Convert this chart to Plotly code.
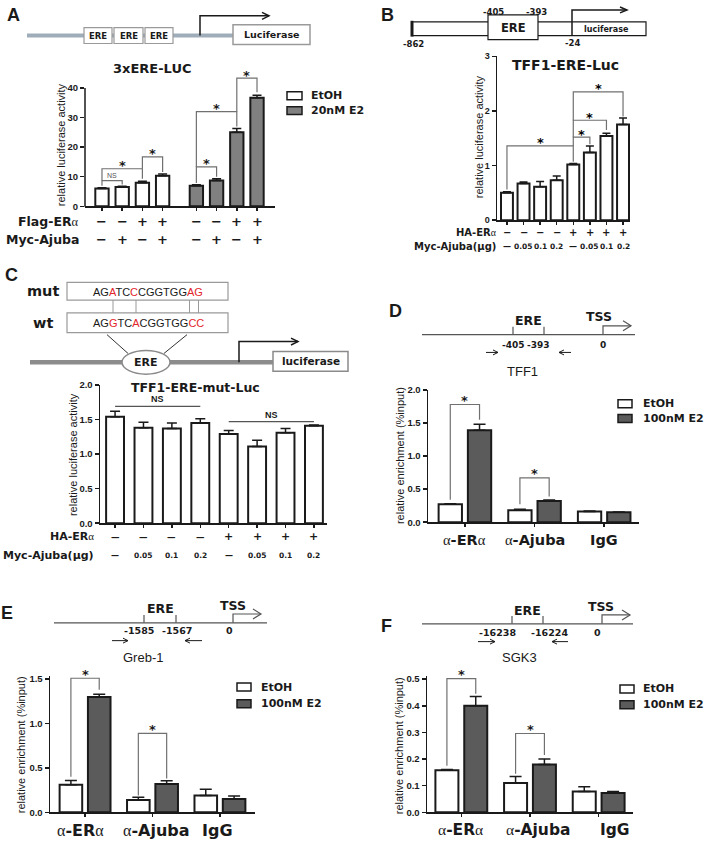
import plotly.graph_objects as go

W, H = 708, 845


def P(x):
    return x / W


def Q(y):
    return 1 - y / H


SANS = "DejaVu Sans"
ARIAL = "Liberation Sans"
SERIF = "Liberation Serif"
INK = "#1a1a1a"
GRAY_A = "#808080"
GRAY_D = "#5b5b5b"
BRK = "#707070"
RED = "#e3262b"

# ======================= DATA =======================
# Panel A : 3xERE-LUC
A_title = "3xERE-LUC"
A_rows = ["Flag-ERα", "Myc-Ajuba"]
A_flag = ["−", "−", "+", "+", "−", "−", "+", "+"]
A_myc = ["−", "+", "−", "+", "−", "+", "−", "+"]
A_legend = ["EtOH", "20nM E2"]
A_etoh = [6.0, 6.5, 8.0, 10.3]
A_etoh_err = [0.3, 0.3, 0.5, 0.6]
A_e2 = [7.0, 8.7, 25.0, 36.7]
A_e2_err = [0.3, 0.6, 1.3, 0.8]
A_yticks = [0, 10, 20, 30, 40]
# (bar i, bar j, bracket top, left leg end, right leg end, label)
A_brackets = [(0, 1, 8.7, 7.0, 7.4, "NS"), (0, 2, 12.7, 8.7, 9.3, "*"),
              (2, 3, 16.7, 12.7, 11.6, "*"), (4, 5, 13.3, 7.9, 10.0, "*"),
              (4, 6, 32.0, 13.3, 27.0, "*"), (6, 7, 43.3, 32.0, 38.5, "*")]

# Panel B : TFF1-ERE-Luc
B_title = "TFF1-ERE-Luc"
B_rows = ["HA-ERα", "Myc-Ajuba(μg)"]
B_ha = ["−", "−", "−", "−", "+", "+", "+", "+"]
B_myc = ["—", "0.05", "0.1", "0.2", "—", "0.05", "0.1", "0.2"]
B_vals = [0.50, 0.67, 0.61, 0.73, 1.02, 1.24, 1.54, 1.75]
B_err = [0.02, 0.03, 0.10, 0.08, 0.02, 0.12, 0.05, 0.12]
B_yticks = [0, 1, 2, 3]
B_brackets = [(0, 4, 1.36, 0.56, 1.07, "*"), (4, 5, 1.52, 1.36, 1.39, "*"),
              (4, 6, 1.83, 1.52, 1.65, "*"), (4, 7, 2.35, 1.83, 1.90, "*")]
B_sites = ["-862", "-405", "-393", "-24"]

# Panel C : TFF1-ERE-mut-Luc
C_title = "TFF1-ERE-mut-Luc"
C_rows = ["HA-ERα", "Myc-Ajuba(μg)"]
C_ha = ["—", "—", "—", "—", "+", "+", "+", "+"]
C_myc = ["—", "0.05", "0.1", "0.2", "—", "0.05", "0.1", "0.2"]
C_vals = [1.54, 1.38, 1.37, 1.45, 1.29, 1.11, 1.31, 1.41]
C_err = [0.08, 0.08, 0.08, 0.06, 0.05, 0.09, 0.06, 0.01]
C_yticks = [0, 0.5, 1.0, 1.5, 2.0]
C_ns = [(0, 3, 1.69, "NS"), (4, 7, 1.47, "NS")]
C_mut = "AGATCCCGGTGGAG"
C_wt = "AGGTCACGGTGGCC"
C_changed = [2, 5, 12, 13]

# ChIP panels
ChIP_cats = ["α-ERα", "α-Ajuba", "IgG"]
ChIP_legend = ["EtOH", "100nM E2"]
ChIP_ytitle = "relative enrichment (%input)"

D_gene, D_sites = "TFF1", ["-405", "-393", "0"]
D_etoh = [0.27, 0.18, 0.16]
D_etoh_err = [0.01, 0.015, 0.01]
D_e2 = [1.39, 0.32, 0.15]
D_e2_err = [0.09, 0.015, 0.005]
D_yticks = [0, 0.5, 1.0, 1.5, 2.0]
D_brackets = [(0, 1.78, 0.34, 1.55), (1, 0.67, 0.27, 0.39)]

E_gene, E_sites = "Greb-1", ["-1585", "-1567", "0"]
E_etoh = [0.31, 0.14, 0.19]
E_etoh_err = [0.05, 0.03, 0.07]
E_e2 = [1.30, 0.32, 0.15]
E_e2_err = [0.03, 0.035, 0.035]
E_yticks = [0, 0.5, 1.0, 1.5]
E_brackets = [(0, 1.51, 0.40, 1.38), (1, 0.89, 0.19, 0.38)]

F_gene, F_sites = "SGK3", ["-16238", "-16224", "0"]
F_etoh = [0.158, 0.11, 0.078]
F_etoh_err = [0.003, 0.025, 0.018]
F_e2 = [0.40, 0.18, 0.073]
F_e2_err = [0.035, 0.02, 0.005]
F_yticks = [0, 0.1, 0.2, 0.3, 0.4, 0.5]
F_brackets = [(0, 0.502, 0.175, 0.445), (1, 0.296, 0.145, 0.215)]

# ======================= HELPERS =======================
fig = go.Figure()
shapes, annos = [], []
layout_axes = {}
ALPHA = "<span style='font-family:Liberation Serif'>α</span>"


def greek(s):
    parts = s.split("α")
    out = ""
    for i, p in enumerate(parts):
        if p:
            out += "<b>" + p + "</b>"
        if i < len(parts) - 1:
            out += ALPHA
    return out


def ann(x, y, text, size, family=SANS, color=INK, xref="paper", yref="paper",
        xanchor="center", yanchor="middle", angle=0, xshift=0, yshift=0):
    annos.append(dict(
        x=P(x) if xref == "paper" else x,
        y=Q(y) if yref == "paper" else y,
        xref=xref, yref=yref, text=text, showarrow=False,
        font=dict(family=family, size=size, color=color),
        xanchor=xanchor, yanchor=yanchor, textangle=angle,
        xshift=xshift, yshift=yshift, borderpad=0))


def pline(x0, y0, x1, y1, color=INK, w=1.5):
    shapes.append(dict(type="line", xref="paper", yref="paper",
                       x0=P(x0), y0=Q(y0), x1=P(x1), y1=Q(y1),
                       line=dict(color=color, width=w)))


def prect(x0, y0, x1, y1, color="#999999", w=1.2, fill="white"):
    shapes.append(dict(type="rect", xref="paper", yref="paper",
                       x0=P(x0), y0=Q(y0), x1=P(x1), y1=Q(y1),
                       line=dict(color=color, width=w), fillcolor=fill))


def pellipse(cx, cy, rx, ry, color="#888888", w=1.5, fill="white"):
    shapes.append(dict(type="circle", xref="paper", yref="paper",
                       x0=P(cx - rx), y0=Q(cy + ry), x1=P(cx + rx), y1=Q(cy - ry),
                       line=dict(color=color, width=w), fillcolor=fill))


def ppath(pts, color=INK, w=1.5):
    d = "M " + " L ".join(f"{P(x):.5f},{Q(y):.5f}" for x, y in pts)
    shapes.append(dict(type="path", xref="paper", yref="paper", path=d,
                       line=dict(color=color, width=w)))


def harrow(x0, y, x1, color=INK, w=1.2, head=5, hh=2.5):
    d = 1 if x1 > x0 else -1
    pline(x0, y, x1, y, color, w)
    ppath([(x1 - d * head, y - hh), (x1, y), (x1 - d * head, y + hh)], color, w)


def axes(k, xpx, xrange, y0px, refv, refpx, ytop, yticks, tfmt, tsize,
         xtickvals, showyline=True):
    ppu = (y0px - refpx) / refv
    toppx = y0px - ppu * ytop
    sx = "" if k == 1 else str(k)
    layout_axes["xaxis" + sx] = dict(
        domain=[P(xpx[0]), P(xpx[1])], range=xrange, anchor="y" + sx,
        showgrid=False, zeroline=False, showline=True, linecolor=INK,
        linewidth=1.5, ticks="outside", ticklen=3, tickwidth=1.5,
        tickcolor=INK, tickvals=xtickvals, showticklabels=False)
    layout_axes["yaxis" + sx] = dict(
        domain=[Q(y0px), Q(toppx)], range=[0, ytop], anchor="x" + sx,
        showgrid=False, zeroline=False, showline=showyline, linecolor=INK,
        linewidth=1.5, ticks="outside", ticklen=4, tickwidth=1.5,
        tickcolor=INK, tickvals=yticks, tickformat=tfmt,
        tickfont=dict(family=ARIAL, size=tsize, color=INK, weight="bold"))
    return "x" + sx, "y" + sx


def bars(xr, yr, xs, vals, errs, color, width, offset, cap):
    fig.add_trace(go.Bar(
        x=xs, y=vals, width=width, offset=offset, xaxis=xr, yaxis=yr,
        marker=dict(color=color, line=dict(color=INK, width=2)),
        error_y=dict(type="data", array=errs, arrayminus=[0] * len(errs),
                     symmetric=False, color=INK, thickness=1.5, width=cap),
        showlegend=False, hoverinfo="skip"))


def bracket(xr, yr, xa, xb, top, la, lb, color=BRK, w=1.2):
    shapes.append(dict(type="path", xref=xr, yref=yr,
                       path=f"M {xa},{la} L {xa},{top} L {xb},{top} L {xb},{lb}",
                       line=dict(color=color, width=w)))


def legend(x, ys, labels, fills, bw, bh, tx, size):
    for y, lab, f in zip(ys, labels, fills):
        prect(x, y - bh / 2, x + bw, y + bh / 2, INK, 1.5, f)
        ann(tx, y, "<b>" + lab + "</b>", size, xanchor="left")


# ======================= PANEL A =======================
ann(13, 9, "<b>A</b>", 18, family=ARIAL)
pline(27, 30, 233, 30, "#9fadba", 4)
for x0, x1 in [(84, 112), (114, 143), (145, 173)]:
    prect(x0, 22, x1, 38, "#9a9a9a", 1.2)
    ann((x0 + x1) / 2, 30, "<b>ERE</b>", 8.5)
prect(233, 19, 310, 39, "#9a9a9a", 1.5)
ann(271.5, 29, "<b>Luciferase</b>", 9.5)
ppath([(200, 30), (200, 10), (269, 10)], INK, 1.5)
ppath([(262, 6.5), (269, 10), (262, 13.5)], INK, 1.5)

pos_A = [i + (0.67 if i >= 4 else 0) for i in range(len(A_flag))]
xa, ya = axes(1, (85, 275), [-0.84, 8.56], 203, 40, 83, 46, A_yticks, "d", 9.5,
              pos_A, showyline=False)
pline(85, 203.5, 85, 83, INK, 1.5)
bars(xa, ya, pos_A[:4], A_etoh, A_etoh_err, "white", 0.66, -0.33, 4.5)
bars(xa, ya, pos_A[4:], A_e2, A_e2_err, GRAY_A, 0.66, -0.33, 4.5)
for i, j, top, la, lb, lab in A_brackets:
    bracket(xa, ya, pos_A[i], pos_A[j], top, la, lb)
    if lab == "NS":
        ann((pos_A[i] + pos_A[j]) / 2, top, lab, 7, family=ARIAL, color="#555555",
            xref=xa, yref=ya, yanchor="bottom", yshift=1)
    else:
        ann((pos_A[i] + pos_A[j]) / 2, top, "<b>*</b>", 13, xref=xa, yref=ya, yshift=3)
ann(152, 63, "<b>" + A_title + "</b>", 13)
ann(61, 141, "relative luciferase activity", 11, family=ARIAL, angle=-90)
legend(287, [91, 106], A_legend, ["white", GRAY_A], 15, 8, 310, 11)
for (row_y, row_label, signs) in [(218, A_rows[0], A_flag), (237, A_rows[1], A_myc)]:
    ann(80, row_y, greek(row_label), 12.5, xanchor="right")
    for p, s in zip(pos_A, signs):
        ann(p, row_y, "<b>" + s + "</b>", 13, xref=xa)

# ======================= PANEL B =======================
ann(387, 9, "<b>B</b>", 18, family=ARIAL)
prect(412, 16, 646, 30, INK, 1.2)
pline(412, 15, 412, 31, INK, 3)
prect(488, 9, 538, 34, INK, 1.2)
ann(513, 22, "<b>ERE</b>", 11.5)
ppath([(572, 30), (572, 4), (627, 4)], INK, 1.5)
ppath([(620, 1), (627, 4), (620, 7)], INK, 1.5)
ann(606, 24, "<b>luciferase</b>", 8)
for (sx, sy), lab in zip([(413, 38), (493, 6), (536, 6), (572, 37)], B_sites):
    ann(sx, sy, "<b>" + lab + "</b>", 8.5)

pos_B = list(range(len(B_vals)))
xb, yb = axes(2, (497, 630), [-0.6, 7.42], 217, 3, 51, 3, B_yticks, "d", 9, pos_B)
bars(xb, yb, pos_B, B_vals, B_err, "white", 0.72, -0.36, 4)
for i, j, top, la, lb, lab in B_brackets:
    bracket(xb, yb, pos_B[i], pos_B[j], top, la, lb)
    ann((pos_B[i] + pos_B[j]) / 2, top, "<b>*</b>", 13, color="#000000",
        xref=xb, yref=yb, yshift=3)
ann(565, 60, "<b>" + B_title + "</b>", 14)
ann(479, 133, "relative luciferase activity", 11, family=ARIAL, angle=-90)
ann(498, 229, greek(B_rows[0]), 10, xanchor="right")
ann(497, 244, "<b>" + B_rows[1] + "</b>", 10, xanchor="right")
for p, s in zip(pos_B, B_ha):
    ann(p, 229, "<b>" + s + "</b>", 10, xref=xb)
for p, s in zip(pos_B, B_myc):
    ann(p, 244, "<b>" + s + "</b>", 7.5 if s != "—" else 8, xref=xb)

# ======================= PANEL C =======================
ann(11, 273, "<b>C</b>", 18, family=ARIAL)


def seq_html(seq):
    out = ""
    for k, ch in enumerate(seq):
        out += f"<span style='color:{RED}'>{ch}</span>" if k in C_changed else ch
    return out


prect(67, 280, 228, 298, "#9a9a9a", 1.2)
prect(67, 311, 228, 331, "#9a9a9a", 1.2)
ann(43, 289, "<b>mut</b>", 14.5)
ann(43, 321, "<b>wt</b>", 14.5)
ann(148, 289.5, seq_html(C_mut), 11, family=ARIAL)
ann(148, 321, seq_html(C_wt), 11, family=ARIAL)
for cx in [113, 136, 189.5, 198.5]:
    pline(cx, 298, cx, 311, "#9a9a9a", 1)
pline(107, 333, 128, 352, "#333333", 1)
pline(187, 333, 164, 352, "#333333", 1)
pline(30, 361, 273, 361, "#8c8c8c", 4.5)
pellipse(146, 361, 24, 12, "#8a8a8a", 1.5)
ann(146, 361, "<b>ERE</b>", 11)
ppath([(239, 361), (239, 340), (298, 340)], INK, 1.5)
ppath([(291, 336.5), (298, 340), (291, 343.5)], INK, 1.5)
prect(273, 350, 348, 370, "#8a8a8a", 1.5)
ann(310.5, 360, "<b>luciferase</b>", 10.5)

pos_C = list(range(len(C_vals)))
xc, yc = axes(3, (100, 327), [-0.53, 7.46], 524, 2.0, 384, 2.0, C_yticks, ".1f", 9.5, pos_C)
bars(xc, yc, pos_C, C_vals, C_err, "white", 0.63, -0.315, 5)
for i, j, top, lab in C_ns:
    shapes.append(dict(type="line", xref=xc, yref=yc, x0=pos_C[i], x1=pos_C[j],
                       y0=top, y1=top, line=dict(color="#555555", width=1.2)))
    ann((pos_C[i] + pos_C[j]) / 2, top, "<b>" + lab + "</b>", 9, family=ARIAL,
        xref=xc, yref=yc, yanchor="bottom", yshift=1)
ann(195, 387, "<b>" + C_title + "</b>", 12.5)
ann(73, 455, "relative luciferase activity", 11, family=ARIAL, angle=-90)
ann(95, 538, greek(C_rows[0]), 11, xanchor="right")
ann(95, 557, "<b>" + C_rows[1] + "</b>", 11, xanchor="right")
for p, s in zip(pos_C, C_ha):
    ann(p, 538, "<b>" + s + "</b>", 11 if s == "+" else 8.5, xref=xc)
for p, s in zip(pos_C, C_myc):
    ann(p, 557, "<b>" + s + "</b>", 7.5 if s != "—" else 8, xref=xc)


# ======================= ChIP PANELS =======================
def chip_diagram(letter, lpos, line_y, lx, ere_x, tss_x, site_xy, sites, gene_xy,
                 gene, prim, ere_lab_y, tss_lab_xy, site_size):
    ann(lpos[0], lpos[1], "<b>" + letter + "</b>", 18, family=ARIAL,
        xanchor=lpos[2] if len(lpos) > 2 else "center")
    pline(lx[0], line_y, lx[1], line_y, "#555555", 1.2)
    for ex in ere_x:
        pline(ex, line_y, ex, line_y - 8, "#555555", 1.2)
    ann((ere_x[0] + ere_x[1]) / 2, ere_lab_y, "<b>ERE</b>", 12.5)
    ppath([(tss_x, line_y), (tss_x, line_y - 9), (tss_x + 28, line_y - 9)], "#555555", 1.2)
    ppath([(tss_x + 20, line_y - 14), (tss_x + 28, line_y - 9), (tss_x + 20, line_y - 4)],
          "#555555", 1.2)
    ann(tss_lab_xy[0], tss_lab_xy[1], "<b>TSS</b>", 12.5)
    for (sx, sy), lab in zip(site_xy, sites):
        ann(sx, sy, "<b>" + lab + "</b>", site_size)
    harrow(prim[0], prim[2], prim[1], INK, 1)
    harrow(prim[3], prim[2], prim[4], INK, 1)
    ann(gene_xy[0], gene_xy[1], gene, 13, family=ARIAL)


def chip_chart(k, xpx, xrange, y0px, refv, refpx, ytop, yticks, etoh, etoh_err,
               e2, e2_err, brks, lab_y, lab_size, lab_shift, ytitle_xy, leg):
    g = list(range(len(ChIP_cats)))
    xr, yr = axes(k, xpx, xrange, y0px, refv, refpx, ytop, yticks, ".1f", 9.5, g)
    w = 0.335
    bars(xr, yr, g, etoh, etoh_err, "white", w, -0.21 - w / 2, 6)
    bars(xr, yr, g, e2, e2_err, GRAY_D, w, 0.21 - w / 2, 6)
    for gi, top, la, lb in brks:
        bracket(xr, yr, gi - 0.21, gi + 0.21, top, la, lb)
        ann(gi, top, "<b>*</b>", 13, xref=xr, yref=yr, yshift=4)
    for gi, cat, sh in zip(g, ChIP_cats, lab_shift):
        ann(gi, lab_y, greek(cat), lab_size, xref=xr, xshift=sh)
    ann(ytitle_xy[0], ytitle_xy[1], ChIP_ytitle, 11, family=ARIAL, angle=-90)
    legend(leg[0], leg[1], ChIP_legend, ["white", GRAY_D], 14, 8, leg[2], 11)


# Panel D
chip_diagram("D", (396, 309), 333, (422, 635), (513, 544), 603,
             [(513, 343), (538, 343), (603, 343)], D_sites, (522, 370), D_gene,
             (486, 498, 351, 571, 559), 319, (599, 315), 9)
chip_chart(4, (428, 639), [-0.53, 2.5], 523, 2.0, 389, 2.0, D_yticks,
           D_etoh, D_etoh_err, D_e2, D_e2_err, D_brackets, 541, 14.5, [0, 0, 0],
           (400, 456), (618, [403, 418], 642))

# Panel E
chip_diagram("E", (0, 615, "left"), 625, (54, 267), (144, 176), 233,
             [(139, 633), (177, 633), (229, 633)], E_sites, (143, 660), E_gene,
             (112, 128, 643, 202, 185), 610, (233, 607), 9.5)
chip_chart(5, (50, 255), [-0.52, 2.52], 817, 1.5, 682, 1.53, E_yticks,
           E_etoh, E_etoh_err, E_e2, E_e2_err, E_brackets, 835, 16, [-5, 4, -2],
           (21, 749), (237, [690, 707], 260))

# Panel F
chip_diagram("F", (386, 628), 626, (422, 633), (512, 543), 602,
             [(497, 635), (549, 635), (597, 635)], F_sites, (519, 660), F_gene,
             (478, 495, 644, 568, 552), 612, (601, 608), 9.5)
chip_chart(6, (427, 633), [-0.5, 2.5], 817, 0.5, 682, 0.51, F_yticks,
           F_etoh, F_etoh_err, F_e2, F_e2_err, F_brackets, 835, 15.5, [-1, 8, 16],
           (399, 750), (620, [692, 708], 642))

fig.update_layout(
    width=W, height=H, margin=dict(l=0, r=0, t=0, b=0),
    paper_bgcolor="white", plot_bgcolor="white", barmode="overlay",
    showlegend=False, hovermode=False, shapes=shapes, annotations=annos,
    **layout_axes)

fig.write_html(
    "out.html",
    config={"displayModeBar": False, "staticPlot": True},
    post_script="document.body.style.margin='0';document.body.style.overflow='hidden';",
)
